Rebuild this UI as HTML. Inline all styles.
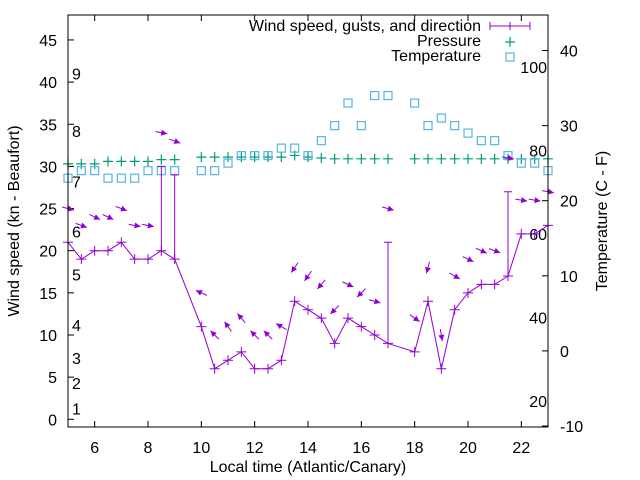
<!DOCTYPE html>
<html><head><meta charset="utf-8"><style>
body{margin:0;background:#fff}
svg{display:block;font-family:"Liberation Sans",sans-serif}
</style></head><body>
<svg id="chart" width="640" height="480" viewBox="0 0 640 480" xmlns="http://www.w3.org/2000/svg">
<rect x="0" y="0" width="640" height="480" fill="#fff"/>
<g id="grid"></g>
<g id="marks"></g>
<rect x="68" y="15" width="480" height="412" fill="none" stroke="#000" stroke-width="1"/>
<text transform="translate(19,221) rotate(-90)" text-anchor="middle" font-size="16" fill="#000">Wind speed (kn - Beaufort)</text>
<text transform="translate(607,221) rotate(-90)" text-anchor="middle" font-size="16" fill="#000">Temperature (C - F)</text>
<text x="308" y="472" text-anchor="middle" font-size="16" fill="#000">Local time (Atlantic/Canary)</text>
<g font-size="16" fill="#000">
<text x="481" y="31" text-anchor="end">Wind speed, gusts, and direction</text>
<text x="481" y="46" text-anchor="end">Pressure</text>
<text x="481" y="61" text-anchor="end">Temperature</text>
<path d="M490 26H530M490 22V30M530 22V30M510 22V30" stroke="#9400d3" stroke-width="1"/>
<path d="M505 42H515M510 37V47" stroke="#009e73" stroke-width="1.2"/>
<rect x="506" y="53" width="8" height="8" fill="none" stroke="#56b4e9" stroke-width="1.2"/>
</g>
</svg>
<script>
const hours=[5,5.5,6,6.5,7,7.5,8,8.5,9,10,10.5,11,11.5,12,12.5,13,13.5,14,14.5,15,15.5,16,16.5,17,18,18.5,19,19.5,20,20.5,21,21.5,22,22.5,23];
const windSpeed=[21,19,20,20,21,19,19,20,19,11,6,7,8,6,6,7,14,13,12,9,12,11,10,9,8,14,6,13,15,16,16,17,22,22,23];
const windGust=[21,19,20,20,21,19,19,30,29,11,6,7,8,6,6,7,14,13,12,9,12,11,10,21,8,14,6,13,15,16,16,27,22,22,23];
const windDir=[285,290,295,295,290,280,280,280,290,115,135,145,140,135,135,120,35,35,40,45,295,45,285,285,305,15,350,300,295,295,290,280,280,280,280];
const pressure=[30.3,30.3,30.3,30.6,30.6,30.6,30.6,30.8,30.8,31.1,31.1,31.1,31.1,31.1,31.1,31.1,31.3,31.1,31.0,30.9,30.9,30.9,30.9,30.9,30.9,30.9,30.9,30.9,30.9,30.9,30.9,30.9,30.9,30.9,30.9];
const tempC=[23,24,24,23,23,23,24,24,24,24,24,25,26,26,26,27,27,26,28,30,33,30,34,34,33,30,31,30,29,28,28,26,25,25,24];
const xTicks=[6,8,10,12,14,16,18,20,22];
const yTicks=[0,5,10,15,20,25,30,35,40,45];
const y2Ticks=[-10,0,10,20,30,40];
const fLabels=[20,40,60,80,100];
const beaufortLabels=[1,2,3,4,5,6,7,8,9];
const beaufortPos=[1.3,4.3,7.3,11.2,17.2,22.3,28.2,34.2,41];

const X=h=>68+(h-5)*480/18;
const Y=v=>419.3-v*8.43;
const Y2=c=>426-(c+10)*7.51;
const NS="http://www.w3.org/2000/svg";
const g=document.getElementById('grid'), m=document.getElementById('marks');
function mk(tag,attrs,parent){const e=document.createElementNS(NS,tag);for(const k in attrs)e.setAttribute(k,attrs[k]);parent.appendChild(e);return e;}
function txt(s,attrs,parent){const e=mk('text',attrs,parent);e.textContent=s;return e;}

xTicks.forEach(t=>{
  const x=X(t);
  const l=mk('path',{d:`M${x} 427v-6M${x} 15v6`,stroke:'#000','stroke-width':1},g);
  
  
  const tx=txt(String(t),{x:x,y:453,'text-anchor':'middle','font-size':16},g);
  
  
});
yTicks.forEach(t=>{
  const y=Y(t);
  const l=mk('path',{d:`M68 ${y}h6`,stroke:'#000','stroke-width':1},g);
  
  
  const tx=txt(String(t),{x:57,y:y+6,'text-anchor':'end','font-size':16},g);
  
  
});
y2Ticks.forEach(t=>{
  const y=Y2(t);
  const l=mk('path',{d:`M548 ${y}h-6`,stroke:'#000','stroke-width':1},g);
  
  
  const tx=txt(String(t),{x:560,y:y+6,'text-anchor':'start','font-size':16},g);
  
  
});
fLabels.forEach(f=>{
  const c=(f-32)*5/9;
  const tx=txt(String(f),{x:547,y:Y2(c)+6,'text-anchor':'end','font-size':16},g);
  
  
});
beaufortLabels.forEach((b,i)=>{
  const tx=txt(String(b),{x:72,y:Y(beaufortPos[i])+6,'text-anchor':'start','font-size':16},g);
  
  
});

hours.forEach((h,i)=>{
  const x=X(h),y=Y(pressure[i]);
  if(x<67||x>549)return;
  const p=mk('path',{d:`M${x-5} ${y}h10M${x} ${y-5}v10`,stroke:'#009e73','stroke-width':1.2},m);
  
  
});
hours.forEach((h,i)=>{
  const x=X(h),y=Y2(tempC[i]);
  const r=mk('rect',{x:x-4,y:y-4,width:8,height:8,fill:'none',stroke:'#56b4e9','stroke-width':1.2},m);
  
  
});
const pts=hours.map((h,i)=>`${X(h)},${Y(windSpeed[i])}`).join(' ');
const pl=mk('polyline',{points:pts,fill:'none',stroke:'#9400d3','stroke-width':1},m);


hours.forEach((h,i)=>{
  const x=X(h),y=Y(windSpeed[i]);
  const p=mk('path',{d:`M${x-5} ${y}h10M${x} ${y-5}v10`,stroke:'#9400d3','stroke-width':1},m);
  
  
  if(windGust[i]>windSpeed[i]){
    const gy=Y(windGust[i]);
    const b=mk('path',{d:`M${x} ${y}V${gy}M${x-4} ${gy}h8`,stroke:'#9400d3','stroke-width':1},m);
    
    
  }
  const base=Math.max(windSpeed[i],windGust[i])+4;
  const cy=Y(base);
  const hd=(windDir[i]+180)*Math.PI/180;
  const dx=Math.sin(hd),dy=-Math.cos(hd);
  const L=6;
  const x1=x-dx*L,y1=cy-dy*L,x2=x+dx*L,y2=cy+dy*L;
  const px=-dy,py=dx;
  const a=mk('g',{},m);
  
  
  mk('line',{x1:x1,y1:y1,x2:x2,y2:y2,stroke:'#9400d3','stroke-width':1},a);
  const hx=x2-dx*6,hy=y2-dy*6;
  mk('polygon',{points:`${x2},${y2} ${hx+px*3},${hy+py*3} ${hx-px*3},${hy-py*3}`,fill:'#9400d3'},a);
});
</script>
</body></html>
